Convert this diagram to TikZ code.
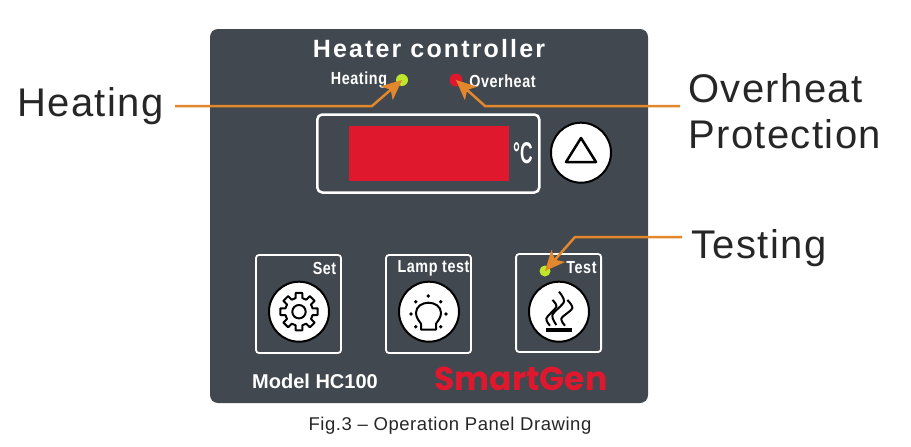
\documentclass[tikz,border=0pt]{standalone}
\usepackage{fontspec}
\usepackage{tikz}
\usetikzlibrary{arrows.meta,positioning}
\setmainfont{Liberation Sans}
\newfontfamily\outerfont[LetterSpace=3.5]{Liberation Sans}
\newfontfamily\capfont[LetterSpace=3]{Liberation Sans}
\newfontfamily\headfont[LetterSpace=8.6]{Liberation Sans Bold}
\newfontfamily\labelfont[LetterSpace=4]{Liberation Sans Bold}
\newfontfamily\logofont{Poppins Bold}
\definecolor{panelgrey}{HTML}{41484F}
\definecolor{leader}{HTML}{E2872B}
\definecolor{ledgreen}{HTML}{BEE62A}
\definecolor{ledred}{HTML}{E0182D}
\begin{document}
\begin{tikzpicture}[x=1pt,y=-1pt,node distance=130pt,on grid,
	keybtn/.style={circle,draw=black,fill=white,line width=2pt,minimum size=60pt,inner sep=0pt},
	keybox/.style={draw=white,rounded corners=3pt,line width=1.8pt,minimum width=85pt,minimum height=98pt,inner sep=0pt},
	led/.style={circle,inner sep=0pt,minimum size=#1},
	outerlab/.style={anchor=base west,inner sep=0pt,text=black!85,font=\fontsize{40}{48}\outerfont},
	panellab/.style={inner sep=0pt,text=white,font=\fontsize{17.5}{20}\labelfont},
	callout/.style={leader,line width=2.5pt,-{Stealth[length=20pt,width=18pt,inset=5pt]}},
	icon/.style={black,line width=2pt,line join=round}]
	\useasboundingbox (0,0) rectangle (911,447);
	\fill[panelgrey,rounded corners=8pt] (210,29) rectangle (648,403);

	\node[inner sep=0pt,text=white,font=\fontsize{25}{30}\headfont] (title) at (429,49) {Heater controller};
	\node[panellab] (heatlab) at (359,80) {\scalebox{.82}[1]{Heating}};
	\node[panellab] (overlab) at (502.5,81) {\scalebox{.82}[1]{Overheat}};
	\node[led=12pt,fill=ledgreen] (ledheat) at (402,80) {};
	\node[led=13pt,fill=ledred] (ledover) at (456,80) {};

	% display
	\node[draw=white,rounded corners=5pt,line width=2.5pt,minimum width=222pt,minimum height=78pt,inner sep=0pt] (frame) at (428.3,153.5) {};
	\node[fill=ledred,minimum width=160pt,minimum height=55pt,inner sep=0pt] (digits) at (428.5,153.3) {};
	\node[inner sep=0pt,text=white,font=\fontsize{30}{32}\bfseries] (degc) at (523,153) {\scalebox{.58}[1]{°C}};
	\node[keybtn] (upkey) at (581,152.7) {};
	\coordinate (upa) at (581,138);
	\coordinate (upb) at (566,162);
	\coordinate (upc) at (596,162);
	\draw[icon,line width=2.5pt,miter limit=3] (upa) -- (upb) -- (upc) -- cycle;

	% keys
	\node[keybtn] (setkey) at (299,311.7) {};
	\node[keybtn] (lampkey) [right=of setkey] {};
	\node[keybtn] (testkey) [right=of lampkey] {};
	\node[keybox] (setbox) at (298.5,304) {};
	\node[keybox] (lampbox) [right=of setbox] {};
	\node[keybox] (testbox) at (558.6,303) {};
	\node[panellab] (setlab) at (324.5,268) {\scalebox{.82}[1]{Set}};
	\node[panellab] (lamplab) at (433.5,268) {\scalebox{.82}[1]{Lamp test}};
	\node[panellab] (testlab) at (581.5,268) {\scalebox{.82}[1]{Test}};
	\node[led=11pt,fill=ledgreen] (ledtest) at (545,271) {};

	% gear
	\begin{scope}[shift={(setkey.center)}]
		\draw[icon] (-14:14) \foreach \a in {0,45,...,315} {
			-- (\a-14:14) -- (\a-10:19) -- (\a+10:19) -- (\a+14:14) -- (\a+31:14)} -- cycle;
		\draw[icon] (0,0) circle (6.7);
	\end{scope}

	% lamp
	\begin{scope}[shift={(lampkey.center)}]
		\draw[icon] (-8,18) -- (-8,12) .. controls (-10,9) and (-13,6) .. (-13,1)
			.. controls (-13,-5) and (-7,-9) .. (-.5,-9)
			.. controls (6,-9) and (12,-5) .. (12,1)
			.. controls (12,6) and (9,9) .. (7,12) -- (7,18) -- cycle;
		\foreach \a/\b in {-.7/-15.7,-13.3/-10,11.7/-10,-18/2.3,17/2.3,-13.3/15,11.7/15}
			\fill[black] (\a,\b) circle (1.9);
	\end{scope}

	% heat
	\begin{scope}[shift={(testkey.center)}]
		\fill[black] (-13,16) rectangle (13,20);
		\draw[icon] plot[smooth] coordinates {(0,-20) (5,-10) (-6.6,3.3) (-2.6,13.3)};
		\draw[icon] plot[smooth] coordinates {(-6.6,-11.7) (-2.6,-5) (-12.6,6.6) (-9,14)};
		\draw[icon] plot[smooth] coordinates {(8.4,-11.7) (13.4,-3.4) (2.4,6.6) (6,14)};
	\end{scope}

	\node[inner sep=0pt,text=white,font=\fontsize{20}{24}\bfseries] (model) at (315,381.5) {Model HC100};
	\node[inner sep=0pt,text=ledred,font=\fontsize{33}{36}\logofont] (brand) at (521,379) {SmartGen};
	\node[inner sep=0pt,text=black!85,font=\fontsize{18.5}{22}\capfont] (caption) at (450,426) {Fig.3 – Operation Panel Drawing};

	% call-outs
	\node[outerlab] (heating) at (17,116) {Heating};
	\node[outerlab] (overheat) at (688,102) {Overheat};
	\node[outerlab] (protect) at (688,148) {Protection};
	\node[outerlab] (testing) at (691,258) {Testing};
	\coordinate (heata) at (175,106);
	\coordinate (heatb) at (372,106);
	\coordinate (overa) at (680,106);
	\coordinate (overb) at (485,106);
	\coordinate (testa) at (682,237);
	\coordinate (testb) at (575,237);
	\draw[callout] (heata) -- (heatb) -- (ledheat.center);
	\draw[callout] (overa) -- (overb) -- (ledover.center);
	\draw[callout] (testa) -- (testb) -- (ledtest.center);
\end{tikzpicture}
\end{document}
